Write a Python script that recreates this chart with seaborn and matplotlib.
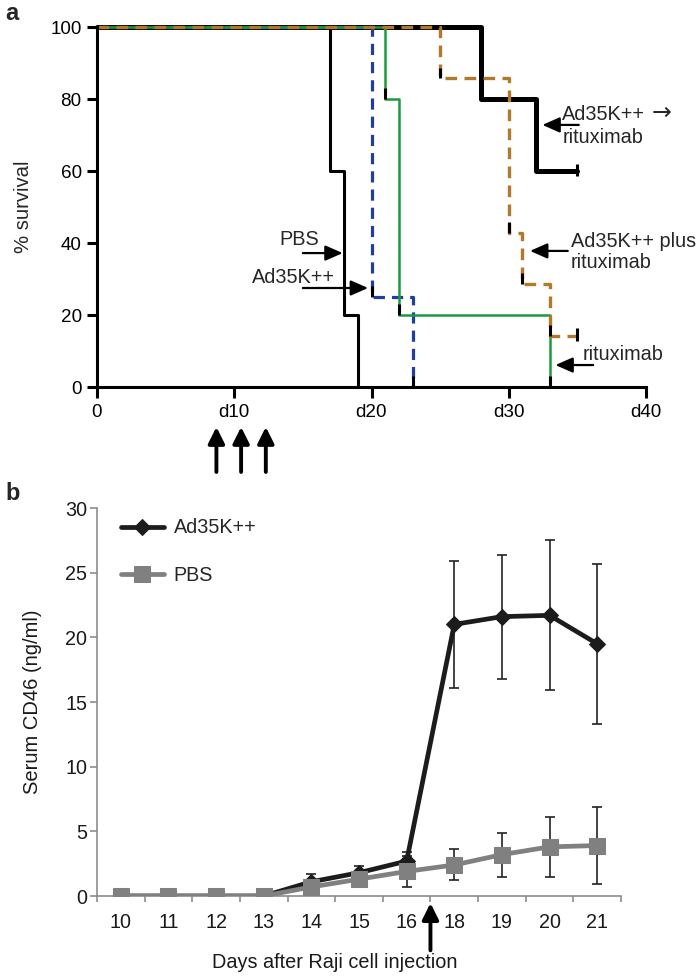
import matplotlib.pyplot as plt
import pandas as pd
import seaborn as sns

# --- panel a: Kaplan-Meier steps (day of each step, % survival after it)
pbs_days = [0, 17, 18, 19]
pbs_surv = [100, 60, 20, 0]
ad35_days = [0, 20, 23]
ad35_surv = [100, 25, 0]
ritux_days = [0, 21, 22, 33]
ritux_surv = [100, 80, 20, 0]
combo_days = [0, 25, 30, 31, 33, 35]
combo_surv = [100, 85.7, 42.9, 28.6, 14.3, 14.3]
seq_days = [0, 28, 32, 35]
seq_surv = [100, 80, 60, 60]
dose_days = [8.7, 10.5, 12.3]
surv_ticks = [0, 10, 20, 30, 40]
surv_ticklabels = ['0', 'd10', 'd20', 'd30', 'd40']

# --- panel b: serum CD46
cd46_days = ['10', '11', '12', '13', '14', '15', '16', '18', '19', '20', '21']
ad35_cd46 = [0, 0, 0, 0, 1.1, 1.8, 2.7, 21.0, 21.6, 21.7, 19.5]
ad35_err = [0, 0, 0, 0, 0.6, 0.5, 0.7, 4.9, 4.8, 5.8, 6.2]
pbs_cd46 = [0, 0, 0, 0, 0.7, 1.3, 1.9, 2.4, 3.2, 3.8, 3.9]
pbs_err = [0, 0, 0, 0, 0.4, 0.6, 1.2, 1.2, 1.7, 2.3, 3.0]

sns.set_style("ticks")
plt.rcParams['font.family'] = ['Liberation Sans', 'DejaVu Sans']

W, H = 700, 980
fig = plt.figure(figsize=(7, 9.8), dpi=100)

# ================= panel a =================
ax = fig.add_axes([97 / W, 1 - 387 / H, 549 / W, 360 / H])

BLUE = '#1f3f9f'
GREEN = '#1a9a40'
BROWN = '#b07a2a'

curves = [
    (pbs_days, pbs_surv, 'black', 2.2, '-'),
    (seq_days, seq_surv, 'black', 3.6, '-'),
    (ad35_days, ad35_surv, BLUE, 2.3, (0, (3.5, 2.2))),
    (ritux_days, ritux_surv, GREEN, 1.8, '-'),
    (combo_days, combo_surv, BROWN, 2.4, (0, (3.5, 2.2))),
]
for days, surv, col, lw, ls in curves:
    sns.lineplot(x=days, y=surv, ax=ax, color=col, lw=lw, linestyle=ls,
                 drawstyle='steps-post', clip_on=False, estimator=None)

# black event marks at each drop of the coloured curves
for days, surv in [(ad35_days, ad35_surv), (ritux_days, ritux_surv),
                   (combo_days[:-1], combo_surv[:-1])]:
    ax.vlines(days[1:], [s for s in surv[1:]], [s + 3 for s in surv[1:]],
              color='black', lw=2.2, zorder=5, clip_on=False)
# censor marks at the end of follow-up
for days, surv in [(combo_days, combo_surv), (seq_days, seq_surv)]:
    ax.vlines(days[-1], surv[-1] - 1.5, surv[-1] + 2, color='black', lw=2.2,
              zorder=5, clip_on=False)

ax.set_xlim(0, 40)
ax.set_ylim(0, 100)
ax.set_xticks(surv_ticks, surv_ticklabels)
ax.set_yticks([0, 20, 40, 60, 80, 100])
for s in ['left', 'bottom']:
    ax.spines[s].set_linewidth(2.2)
    ax.spines[s].set_color('black')
sns.despine(ax=ax)
ax.tick_params(axis='x', length=8, width=2.2, pad=4, labelsize=13.6, colors='black')
ax.tick_params(axis='y', length=7, width=2.2, pad=4, labelsize=13.6, colors='black')
ax.set_xlabel('')
ax.set_ylabel('% survival', fontsize=14.6)
ax.yaxis.set_label_coords((33 - 97) / 549, 0.5)

arrow_kw = dict(arrowstyle='-|>,head_length=0.75,head_width=0.33', color='black',
                lw=1.6, mutation_scale=14, shrinkA=0, shrinkB=0)
FS = 14.3
ax.text(14.7, 39.4, 'PBS', ha='center', va='baseline', fontsize=FS)
ax.annotate('', xy=(17.9, 37.2), xytext=(15.0, 37.2), arrowprops=arrow_kw)
ax.text(17.35, 28.9, 'Ad35K++', ha='right', va='baseline', fontsize=FS)
ax.annotate('', xy=(19.75, 27.5), xytext=(15.0, 27.5), arrowprops=arrow_kw)

ax.text(33.9, 74.2, 'Ad35K++', ha='left', va='baseline', fontsize=FS)
ax.text(40.4, 74.2, '\u2192', ha='left', va='baseline', fontsize=17,
        family=['DejaVu Sans'], clip_on=False)
ax.text(33.9, 67.8, 'rituximab', ha='left', va='baseline', fontsize=FS)
ax.annotate('', xy=(32.45, 72.8), xytext=(35.1, 72.8), arrowprops=arrow_kw,
            annotation_clip=False)

ax.text(34.5, 38.9, 'Ad35K++ plus', ha='left', va='baseline', fontsize=FS)
ax.text(34.5, 33.1, 'rituximab', ha='left', va='baseline', fontsize=FS)
ax.annotate('', xy=(31.55, 37.8), xytext=(34.3, 37.8), arrowprops=arrow_kw,
            annotation_clip=False)

ax.text(35.35, 7.5, 'rituximab', ha='left', va='baseline', fontsize=FS)
ax.annotate('', xy=(33.4, 6.1), xytext=(36.15, 6.1), arrowprops=arrow_kw,
            annotation_clip=False)

# injection days
dose_kw = dict(arrowstyle='-|>,head_length=0.7,head_width=0.35', color='black',
               lw=2.8, mutation_scale=14, shrinkA=0, shrinkB=0)
for d in dose_days:
    ax.annotate('', xy=(d, -11.1), xytext=(d, -23.6), arrowprops=dose_kw,
                annotation_clip=False)

fig.text(5 / W, 1 - 20 / H, 'a', fontsize=17, fontweight='bold', ha='left', va='baseline')

# ================= panel b =================
bx = fig.add_axes([97 / W, 1 - 896 / H, 524 / W, 388 / H])
pos = list(range(len(cd46_days)))
AD_COL = '#1c1c1c'
PBS_COL = '#808080'
FSB = 14.2

ad_idx = [i for i in pos if ad35_err[i] > 0]
pbs_idx = [i for i in pos if pbs_err[i] > 0]
bx.errorbar([pos[i] for i in ad_idx], [ad35_cd46[i] for i in ad_idx],
            yerr=[ad35_err[i] for i in ad_idx], fmt='none', ecolor='#222222',
            elinewidth=1.2, capsize=3.8, capthick=1.2, zorder=1)
bx.errorbar([pos[i] for i in pbs_idx], [pbs_cd46[i] for i in pbs_idx],
            yerr=[pbs_err[i] for i in pbs_idx], fmt='none', ecolor='#222222',
            elinewidth=1.2, capsize=3.8, capthick=1.2, zorder=1)

df = pd.DataFrame({'pos': pos, 'ad35': ad35_cd46, 'pbs': pbs_cd46})
sns.lineplot(data=df, x='pos', y='ad35', ax=bx, color=AD_COL, lw=3.4, marker='D',
             markersize=8.5, markeredgecolor=AD_COL, label='Ad35K++', zorder=3)
sns.lineplot(data=df, x='pos', y='pbs', ax=bx, color=PBS_COL, lw=3.4, marker='s',
             markersize=11.5, markeredgecolor=PBS_COL, label='PBS', zorder=4)

bx.set_xlim(-0.5, len(pos) - 0.5)
bx.set_ylim(0, 30)
bx.set_yticks([0, 5, 10, 15, 20, 25, 30])
bx.set_xticks(pos, cd46_days)
bx.set_xticks([p - 0.5 for p in pos] + [len(pos) - 0.5], minor=True)
sns.despine(ax=bx)
for s in ['left', 'bottom']:
    bx.spines[s].set_linewidth(1.2)
    bx.spines[s].set_color('#8c8c8c')
bx.tick_params(axis='x', which='major', length=0, pad=12, labelsize=FSB,
               labelcolor='#1a1a1a')
bx.tick_params(axis='x', which='minor', length=4, width=1.2, color='#8c8c8c')
bx.tick_params(axis='y', length=5, width=1.2, color='#8c8c8c', pad=2,
               labelsize=FSB, labelcolor='#1a1a1a')
bx.set_xlabel('')
bx.set_ylabel('Serum CD46 (ng/ml)', fontsize=14.5, color='#1a1a1a')
bx.yaxis.set_label_coords((42 - 97) / 524, 0.5)

bx.legend(loc='upper left', bbox_to_anchor=(0.045, 0.973), frameon=False,
          fontsize=FSB, handlelength=2.2, handletextpad=0.5, labelspacing=1.46,
          borderpad=0, borderaxespad=0)

bx.annotate('', xy=(6.5, -0.55), xytext=(6.5, -4.2), arrowprops=dose_kw,
            annotation_clip=False)
fig.text(335 / W, 1 - 968 / H, 'Days after Raji cell injection', ha='center',
         va='baseline', fontsize=14.3, color='#1a1a1a')

fig.text(5 / W, 1 - 500 / H, 'b', fontsize=17, fontweight='bold', ha='left', va='baseline')

fig.savefig('out.png', dpi=100)
